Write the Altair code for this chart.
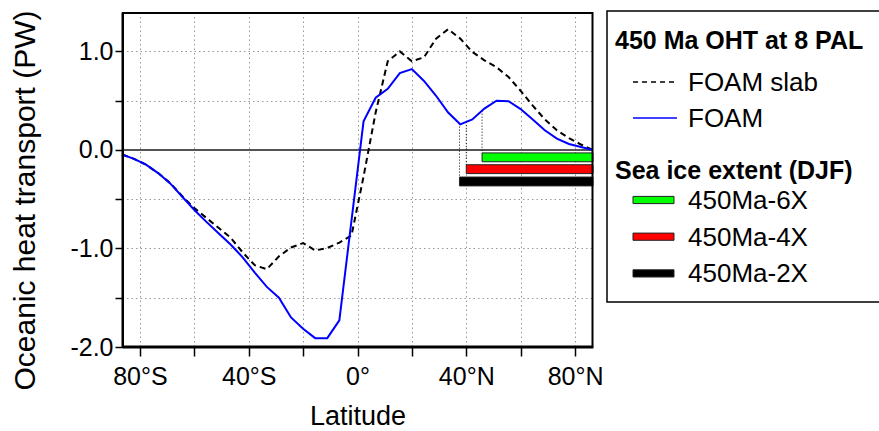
import altair as alt
import pandas as pd
import numpy as np

# ---- data ----
lat = [-86.598, -82.191, -77.758, -73.319, -68.878, -64.436, -59.994, -55.551, -51.108, -46.665,
       -42.222, -37.779, -33.336, -28.892, -24.449, -20.006, -15.562, -11.119, -6.675, -2.225,
       2.225, 6.675, 11.119, 15.562, 20.006, 24.449, 28.892, 33.336, 37.779, 42.222,
       46.665, 51.108, 55.551, 59.994, 64.436, 68.878, 73.319, 77.758, 82.191, 86.598]

foam = [-0.046, -0.09, -0.15, -0.235, -0.34, -0.475, -0.61, -0.73, -0.845, -0.96,
        -1.09, -1.245, -1.39, -1.50, -1.70, -1.815, -1.91, -1.91, -1.73, -0.72,
        0.29, 0.53, 0.62, 0.78, 0.82, 0.70, 0.55, 0.38, 0.26, 0.31,
        0.42, 0.50, 0.495, 0.415, 0.31, 0.20, 0.115, 0.06, 0.03, 0.0]

foam_slab = [-0.046, -0.09, -0.15, -0.235, -0.335, -0.47, -0.59, -0.69, -0.79, -0.89,
             -1.04, -1.17, -1.21, -1.08, -0.99, -0.945, -1.02, -0.995, -0.94, -0.87,
             -0.27, 0.38, 0.90, 1.00, 0.90, 0.94, 1.13, 1.225, 1.13, 0.995,
             0.91, 0.84, 0.74, 0.60, 0.45, 0.31, 0.20, 0.12, 0.055, 0.0]

ice_names = ["450Ma-6X", "450Ma-4X", "450Ma-2X"]
ice_edge = [45.8, 40.0, 37.5]
ice_top = [-0.03, -0.15, -0.275]
ice_bottom = [-0.12, -0.24, -0.365]
ice_colors = ["#00ff00", "#ff0000", "#000000"]

x_ticks = [-80, -60, -40, -20, 0, 20, 40, 60, 80]
y_ticks = [-2.0, -1.5, -1.0, -0.5, 0.0, 0.5, 1.0]
x_domain = [-86.6, 86.6]
y_domain = [-2.0, 1.4]

FONT = "Liberation Sans"
W, H = 471, 335

lines_df = pd.DataFrame({"lat": lat, "foam": foam, "slab": foam_slab})
ice_df = pd.DataFrame({
    "name": ice_names, "edge": ice_edge, "end": [x_domain[1]] * 3,
    "top": ice_top, "bottom": ice_bottom, "color": ice_colors,
    "curve": np.interp(ice_edge, lat, foam),
})

x_lbl = ("datum.value % 40 == 0 ? (datum.value < 0 ? (-datum.value) + '°S' : "
         "(datum.value > 0 ? datum.value + '°N' : '0°')) : ''")
y_lbl = ("datum.value % 1 == 0 ? (datum.value < 0 ? '-' + format(-datum.value, '.1f') : "
         "format(datum.value, '.1f')) : ''")

xs = alt.Scale(domain=x_domain, nice=False, zero=False)
ys = alt.Scale(domain=y_domain, nice=False, zero=False)

x_axis = alt.Axis(values=x_ticks, labelExpr=x_lbl, grid=True, gridDash=[1.5, 3],
                  gridColor="#999999", gridWidth=1, domain=True, domainColor="black",
                  domainWidth=2, tickColor="black",
                  tickWidth=1.5, tickSize=9, labelFont=FONT, labelFontSize=25,
                  labelColor="black", labelPadding=8, labelFlush=False, labelOverlap=False,
                  title="Latitude", titleFont=FONT, titleFontSize=27,
                  titleFontWeight="normal", titleColor="black", titlePadding=14)
y_axis = alt.Axis(values=y_ticks, labelExpr=y_lbl, grid=True, gridDash=[1.5, 3],
                  gridColor="#999999", gridWidth=1, domain=True, domainColor="black",
                  domainWidth=2, tickColor="black",
                  tickWidth=1.5, tickSize=7, labelFont=FONT, labelFontSize=25,
                  labelColor="black", labelPadding=2, labelFlush=False, labelOverlap=False,
                  title="Oceanic heat transport (PW)", titleFont=FONT, titleFontSize=30,
                  titleFontWeight="normal", titleColor="black",
                  titleX=-88, titleY=188, titleAngle=270, titleBaseline="alphabetic",
                  titleAlign="center")

base = alt.Chart(lines_df)

zero = base.mark_rule(color="#555555", strokeWidth=1).encode(
    y=alt.Y(datum=0, scale=ys, axis=y_axis))

slab_line = base.mark_line(color="black", strokeWidth=2, strokeDash=[6, 4]).encode(
    x=alt.X("lat:Q", scale=xs, axis=x_axis),
    y=alt.Y("slab:Q", scale=ys, axis=y_axis))

foam_line = base.mark_line(color="#0000ff", strokeWidth=2).encode(
    x=alt.X("lat:Q", scale=xs, axis=x_axis),
    y=alt.Y("foam:Q", scale=ys, axis=y_axis))

ice_base = alt.Chart(ice_df)
connectors = ice_base.mark_rule(color="black", strokeWidth=1, strokeDash=[1, 2]).encode(
    x=alt.X("edge:Q", scale=xs, axis=x_axis),
    y=alt.Y("curve:Q", scale=ys, axis=y_axis),
    y2="top:Q")

bars = ice_base.mark_rect(stroke="#222222", strokeWidth=1).encode(
    x=alt.X("edge:Q", scale=xs, axis=x_axis), x2="end:Q",
    y=alt.Y("top:Q", scale=ys, axis=y_axis), y2="bottom:Q",
    fill=alt.Fill("color:N", scale=None))

one = alt.Chart(pd.DataFrame({"k": [0]}))
def rule(x1, x2, y1, y2, color="black", width=2.0, dash=None):
    kw = dict(color=color, strokeWidth=width, opacity=1)
    if dash:
        kw["strokeDash"] = dash
    return one.mark_rule(**kw).encode(x=alt.value(x1), x2=alt.value(x2),
                                      y=alt.value(y1), y2=alt.value(y2))

# frame edges, nudged inside so none is lost to clipping
frame = [rule(0, W, 1, 1, width=2), rule(W - 0.5, W - 0.5, 0, H, width=2),
         rule(1, 1, 0, H, width=2), rule(0, W, H - 0.5, H - 0.5, width=2)]

# ---- manual legend (pixel offsets relative to plot origin) ----
OX, OY = 122, 12
legend_box = one.mark_rect(fill="white", stroke="black", strokeWidth=1.5).encode(
    x=alt.value(607 - OX), x2=alt.value(885 - OX),
    y=alt.value(11 - OY), y2=alt.value(302 - OY))

def txt(s, x, y, bold=False, size=26):
    return one.mark_text(text=s, align="left", baseline="middle", font=FONT,
                         fontSize=size, fontWeight="bold" if bold else "normal",
                         color="black").encode(x=alt.value(x - OX), y=alt.value(y - OY))

leg_title1 = txt("450 Ma OHT at 8 PAL", 615, 41, bold=True, size=25)
leg_slab_line = rule(633 - OX, 677 - OX, 82 - OY, 82 - OY, width=1.3, dash=[5, 4])
leg_slab_txt = txt("FOAM slab", 688, 83)
leg_foam_line = rule(633 - OX, 677 - OX, 118 - OY, 118 - OY, color="#0000ff", width=1.3)
leg_foam_txt = txt("FOAM", 688, 119)
leg_title2 = txt("Sea ice extent (DJF)", 615, 171, bold=True, size=25)

swatches = []
for i, (nm, col) in enumerate(zip(ice_names, ice_colors)):
    yc = 200 + i * 36.7
    swatches.append(one.mark_rect(fill=col, stroke="#222222", strokeWidth=1).encode(
        x=alt.value(633 - OX), x2=alt.value(674 - OX),
        y=alt.value(yc - 3.6 - OY), y2=alt.value(yc + 3.6 - OY)))
    swatches.append(txt(nm, 688, yc + 1))

chart = alt.layer(
    zero, connectors, slab_line, foam_line, bars, *frame,
    legend_box, leg_title1, leg_slab_line, leg_slab_txt, leg_foam_line, leg_foam_txt,
    leg_title2, *swatches
).properties(
    width=W, height=H,
    padding={"left": 122, "top": 12, "right": 286, "bottom": 84},
    autosize="none",
).configure(background="white").configure_view(strokeWidth=0, stroke="white")

chart.save("out.html", embed_options={"renderer": "svg", "actions": False})
